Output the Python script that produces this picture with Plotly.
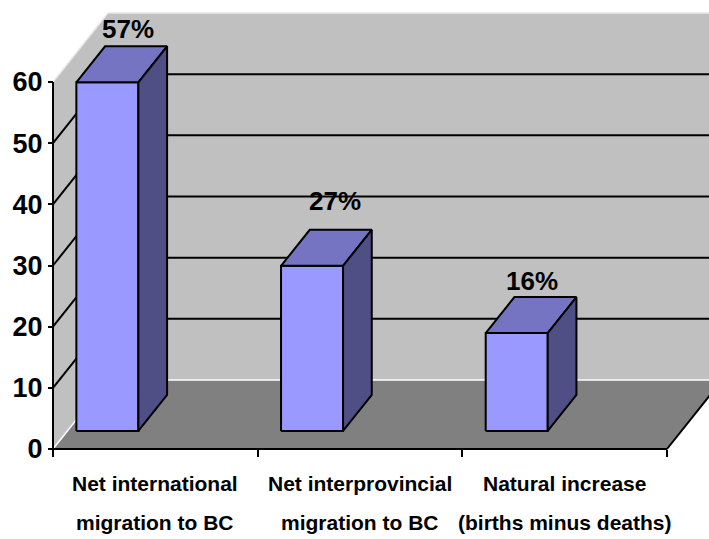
import plotly.graph_objects as go

# ---------------- data ----------------
categories_line1 = ["Net international", "Net interprovincial", "Natural increase"]
categories_line2 = ["migration to BC", "migration to BC", "(births minus deaths)"]
values = [57, 27, 16]
y_ticks = [0, 10, 20, 30, 40, 50, 60]
y_max = 60

# ---------------- style / projection constants ----------------
FONT = "Liberation Sans, Arial, sans-serif"
WALL = "#c0c0c0"
FLOOR = "#808080"
FRONT = "#9999ff"
TOP = "#7474c2"
SIDE = "#4f4f85"
EDGE_LIGHT = "#e8e8e8"

PX_CAT = 204.67      # pixels per category
PX_VAL = 6.1167      # pixels per value unit
DX = 55 / PX_CAT     # oblique depth offset (category units)
DY = 69 / PX_VAL     # oblique depth offset (value units)
F1, F2 = 0.261, 0.783  # bar front / back depth fractions
BAR_X0, BAR_W = 0.044, 0.303
LABEL_NUDGE_X = [6, 9, 1]
LABEL_NUDGE_Y = [17, 29, 16]

W, H = 709, 539
ML, MB = 40, 70
X0_PX, Y0_PX = 53, 449   # pixel position of the front-bottom-left corner
n = len(values)


def P(xc, v, d):
    """Project a 3-D point (category, value, depth fraction) onto the 2-D axes."""
    return xc + d * DX, v + d * DY


def path(pts):
    return "M " + " L ".join(f"{x:.5f},{y:.5f}" for x, y in pts) + " Z"


shapes = []
# back wall
shapes.append(dict(type="path", xref="x", yref="y", layer="below",
                   path=path([P(0, 0, 1), P(n, 0, 1), P(n, y_max, 1), P(0, y_max, 1)]),
                   fillcolor=WALL, line=dict(width=0)))
# left wall
shapes.append(dict(type="path", xref="x", yref="y", layer="below",
                   path=path([P(0, 0, 0), P(0, 0, 1), P(0, y_max, 1), P(0, y_max, 0)]),
                   fillcolor=WALL, line=dict(width=0)))
# floor
shapes.append(dict(type="path", xref="x", yref="y", layer="below",
                   path=path([P(0, 0, 0), P(n, 0, 0), P(n, 0, 1), P(0, 0, 1)]),
                   fillcolor=FLOOR, line=dict(width=0)))


def seg(a, b, color, width):
    shapes.append(dict(type="line", xref="x", yref="y", layer="below",
                       x0=a[0], y0=a[1], x1=b[0], y1=b[1],
                       line=dict(color=color, width=width)))


# gridlines on back and left walls
for v in y_ticks[1:-1]:
    seg(P(0, v, 1), P(n, v, 1), "black", 2)
    seg(P(0, v, 0), P(0, v, 1), "black", 2)
# light edges
seg(P(0, y_max, 0), P(0, y_max, 1), EDGE_LIGHT, 1.5)
seg(P(0, y_max, 1), P(n, y_max, 1), EDGE_LIGHT, 1.5)
seg(P(0, 0, 0), P(0, 0, 1), "white", 1.5)
seg(P(0, 0, 1), P(n, 0, 1), "white", 1.5)
# floor right edge and axis lines
seg(P(n, 0, 0), P(n, 0, 1), "black", 2)
seg(P(0, 0, 0), P(n, 0, 0), "black", 2)
seg(P(0, 0, 0), P(0, y_max, 0), "black", 2)

fig = go.Figure()


def face(pts, color):
    xs = [p[0] for p in pts] + [pts[0][0]]
    ys = [p[1] for p in pts] + [pts[0][1]]
    fig.add_trace(go.Scatter(x=xs, y=ys, mode="lines", fill="toself",
                             fillcolor=color, line=dict(color="black", width=2),
                             hoverinfo="skip", showlegend=False))


annotations = []
for i, v in enumerate(values):
    x0 = i + BAR_X0
    x1 = x0 + BAR_W
    face([P(x0, 0, F1), P(x1, 0, F1), P(x1, v, F1), P(x0, v, F1)], FRONT)
    face([P(x0, v, F1), P(x1, v, F1), P(x1, v, F2), P(x0, v, F2)], TOP)
    face([P(x1, 0, F1), P(x1, 0, F2), P(x1, v, F2), P(x1, v, F1)], SIDE)
    lx, _ = P((x0 + x1) / 2, v, (F1 + F2) / 2)
    _, ly = P(x0, v, F2)
    annotations.append(dict(x=lx, y=ly, xref="x", yref="y", text=f"{v}%",
                            showarrow=False, xanchor="center", yanchor="middle",
                            xshift=LABEL_NUDGE_X[i], yshift=LABEL_NUDGE_Y[i],
                            font=dict(family=FONT, size=26, color="black", weight="bold")))

for i in range(n):
    annotations.append(dict(x=i + 0.5, y=0, xref="x", yref="y",
                            text=categories_line1[i], showarrow=False,
                            xanchor="center", yanchor="middle", yshift=-34,
                            font=dict(family=FONT, size=21, color="black", weight="bold")))
    annotations.append(dict(x=i + 0.5, y=0, xref="x", yref="y",
                            text=categories_line2[i], showarrow=False,
                            xanchor="center", yanchor="middle", yshift=-73,
                            font=dict(family=FONT, size=21, color="black", weight="bold")))

plot_w = W - ML
plot_h = H - MB
x_range = [(ML - X0_PX) / PX_CAT, (W - X0_PX) / PX_CAT]
y_range = [(Y0_PX - plot_h) / PX_VAL, Y0_PX / PX_VAL]

fig.update_layout(
    width=W, height=H,
    margin=dict(l=ML, r=0, t=0, b=MB, pad=0),
    paper_bgcolor="white", plot_bgcolor="white",
    shapes=shapes, annotations=annotations,
    xaxis=dict(range=x_range, showgrid=False, zeroline=False, showline=False,
               tickvals=list(range(n + 1)), showticklabels=False,
               ticks="outside", ticklen=7, tickwidth=2, tickcolor="black",
               anchor="free", position=(plot_h - Y0_PX) / plot_h, fixedrange=True),
    yaxis=dict(range=y_range, showgrid=False, zeroline=False, showline=False,
               tickvals=y_ticks, ticks="outside", ticklen=5, tickwidth=2,
               tickcolor="black", anchor="free", position=(X0_PX - ML) / plot_w,
               tickfont=dict(family=FONT, size=27, color="black", weight="bold"),
               fixedrange=True),
    showlegend=False,
)

fig.write_html("out.html")
